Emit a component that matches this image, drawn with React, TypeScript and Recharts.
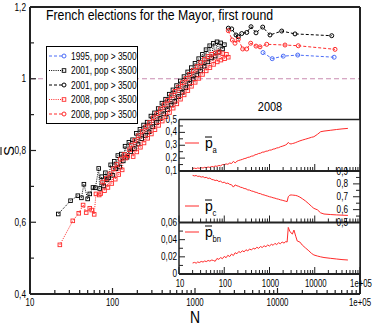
import React from 'react';
import { LineChart, Line, XAxis, YAxis, ReferenceLine, Legend, Customized } from 'recharts';

const FONT = "'Liberation Sans', Arial, sans-serif";
const AXIS = '#222';
const RED = '#ff2a2a';
const BLUE = '#4a6cf7';

// ---------- main panel data ----------
const n2001Small = [22, 31, 38, 42, 45, 50, 53, 58, 62, 68, 70, 74, 78, 82, 86, 90, 95, 100, 105, 110, 116, 122, 128, 135, 142, 150, 158, 166, 175, 184, 194, 204, 215, 226, 238, 250, 263, 277, 292, 307, 323, 340, 358, 377, 397, 418, 440, 463, 487, 513, 540, 568, 598, 630, 663, 698, 735, 774, 815, 858, 903, 950, 1000, 1053, 1108, 1166, 1228, 1292, 1360, 1432, 1507, 1586, 1670, 1758, 1850, 1948, 2050, 2158, 2272];
const s2001Small = [0.623, 0.660, 0.674, 0.668, 0.706, 0.665, 0.679, 0.697, 0.696, 0.750, 0.694, 0.727, 0.701, 0.738, 0.719, 0.724, 0.760, 0.731, 0.770, 0.749, 0.786, 0.754, 0.790, 0.771, 0.812, 0.781, 0.823, 0.797, 0.830, 0.805, 0.848, 0.818, 0.859, 0.833, 0.871, 0.842, 0.879, 0.852, 0.896, 0.866, 0.905, 0.878, 0.917, 0.889, 0.932, 0.902, 0.943, 0.914, 0.957, 0.927, 0.969, 0.937, 0.981, 0.950, 0.994, 0.962, 1.006, 0.975, 1.019, 0.987, 1.031, 0.999, 1.043, 1.011, 1.056, 1.022, 1.068, 1.035, 1.081, 1.047, 1.092, 1.058, 1.099, 1.063, 1.103, 1.074, 1.100, 1.083, 1.095];

const n2008Small = [23, 33, 39, 44, 48, 53, 56, 60, 63, 69, 72, 76, 80, 84, 88, 93, 98, 103, 108, 113, 119, 125, 131, 138, 145, 153, 161, 169, 178, 187, 197, 207, 218, 229, 241, 254, 267, 281, 296, 311, 327, 344, 362, 381, 401, 422, 444, 467, 491, 517, 544, 572, 602, 634, 667, 702, 739, 778, 819, 862, 907, 955, 1005, 1058, 1114, 1172, 1234, 1299, 1367, 1439, 1515, 1595, 1679, 1767, 1860, 1958, 2061, 2170, 2284, 2404, 2530];
const s2008Small = [0.537, 0.604, 0.625, 0.648, 0.627, 0.639, 0.634, 0.622, 0.679, 0.676, 0.680, 0.712, 0.688, 0.722, 0.697, 0.735, 0.708, 0.749, 0.720, 0.761, 0.733, 0.776, 0.746, 0.789, 0.779, 0.785, 0.802, 0.815, 0.783, 0.828, 0.796, 0.841, 0.809, 0.853, 0.821, 0.866, 0.834, 0.878, 0.846, 0.891, 0.858, 0.903, 0.870, 0.916, 0.882, 0.928, 0.894, 0.940, 0.906, 0.953, 0.918, 0.965, 0.930, 0.977, 0.943, 0.989, 0.955, 1.001, 0.967, 1.012, 0.979, 1.023, 0.990, 1.034, 1.001, 1.045, 1.012, 1.054, 1.022, 1.062, 1.031, 1.068, 1.040, 1.072, 1.047, 1.075, 1.052, 1.070, 1.056, 1.068, 1.060];

const n2001Large = [2535, 2786, 3141, 3350, 3683, 4236, 4777, 5488, 6615, 8110, 11245, 16300, 45400];
const s2001Large = [1.141, 1.139, 1.122, 1.117, 1.126, 1.129, 1.145, 1.128, 1.144, 1.122, 1.133, 1.125, 1.120];

const n2008Large = [2535, 2831, 3055, 3350, 3787, 4236, 4731, 5488, 6138, 7396, 12330, 17870, 49800];
const s2008Large = [1.134, 1.108, 1.099, 1.110, 1.083, 1.083, 1.099, 1.091, 1.089, 1.096, 1.094, 1.092, 1.082];

const n1995Large = [6670, 8630, 11740, 17580, 48600];
const s1995Large = [1.073, 1.056, 1.063, 1.066, 1.060];

// ---------- inset data (2008) ----------
const insetN = [20, 22, 24, 26, 28, 31, 34, 37, 40, 44, 48, 53, 58, 63, 69, 76, 83, 91, 100, 110, 120, 132, 145, 159, 174, 191, 209, 229, 251, 275, 302, 331, 363, 398, 437, 479, 525, 575, 631, 692, 759, 832, 912, 1000, 1096, 1202, 1318, 1445, 1585, 1738, 1905, 2089, 2291, 2450, 2600, 2800, 3000, 3200, 3470, 3800, 4100, 4700, 5300, 6200, 7400, 8500, 9550, 11500, 13500, 16000, 22000, 30000, 40000, 54000];
const paValues = [0.120, 0.122, 0.119, 0.124, 0.121, 0.126, 0.123, 0.129, 0.126, 0.131, 0.128, 0.135, 0.132, 0.139, 0.136, 0.143, 0.140, 0.150, 0.149, 0.155, 0.152, 0.162, 0.158, 0.175, 0.163, 0.176, 0.182, 0.186, 0.190, 0.196, 0.199, 0.206, 0.208, 0.215, 0.217, 0.226, 0.229, 0.236, 0.238, 0.246, 0.247, 0.254, 0.255, 0.262, 0.263, 0.270, 0.272, 0.279, 0.281, 0.288, 0.292, 0.297, 0.303, 0.310, 0.322, 0.312, 0.310, 0.313, 0.316, 0.321, 0.326, 0.334, 0.340, 0.347, 0.355, 0.362, 0.366, 0.385, 0.405, 0.410, 0.416, 0.422, 0.427, 0.431];
const pcValues = [0.866, 0.862, 0.865, 0.858, 0.860, 0.853, 0.856, 0.848, 0.851, 0.842, 0.845, 0.834, 0.832, 0.826, 0.829, 0.818, 0.821, 0.810, 0.813, 0.803, 0.806, 0.796, 0.793, 0.775, 0.792, 0.785, 0.781, 0.774, 0.771, 0.764, 0.762, 0.753, 0.752, 0.745, 0.742, 0.736, 0.733, 0.726, 0.724, 0.717, 0.714, 0.709, 0.705, 0.700, 0.697, 0.692, 0.689, 0.684, 0.681, 0.676, 0.673, 0.669, 0.665, 0.662, 0.700, 0.712, 0.714, 0.713, 0.712, 0.710, 0.707, 0.697, 0.685, 0.668, 0.645, 0.625, 0.610, 0.598, 0.575, 0.566, 0.562, 0.559, 0.557, 0.555];
const pbnValues = [0.0128, 0.0135, 0.0126, 0.0141, 0.0133, 0.0146, 0.0139, 0.0152, 0.0144, 0.0158, 0.0150, 0.0163, 0.0157, 0.0148, 0.0181, 0.0170, 0.0192, 0.0178, 0.0205, 0.0190, 0.0218, 0.0203, 0.0232, 0.0215, 0.0248, 0.0236, 0.0262, 0.0249, 0.0271, 0.0258, 0.0283, 0.0268, 0.0292, 0.0279, 0.0301, 0.0290, 0.0312, 0.0299, 0.0320, 0.0309, 0.0329, 0.0318, 0.0338, 0.0326, 0.0346, 0.0335, 0.0357, 0.0343, 0.0364, 0.0352, 0.0373, 0.0360, 0.0378, 0.0372, 0.0543, 0.0500, 0.0478, 0.0465, 0.0512, 0.0440, 0.0385, 0.0372, 0.0337, 0.0305, 0.0270, 0.0240, 0.0222, 0.0209, 0.0200, 0.0192, 0.0183, 0.0175, 0.0168, 0.0163];

// ---------- ticks / labels ----------
const logTicks = [10, 20, 30, 40, 50, 60, 70, 80, 90, 100, 200, 300, 400, 500, 600, 700, 800, 900, 1000, 2000, 3000, 4000, 5000, 6000, 7000, 8000, 9000, 10000, 20000, 30000, 40000, 50000, 60000, 70000, 80000, 90000, 100000];
const logMajors = [10, 100, 1000, 10000, 100000];
const logLabels = ['10', '100', '1000', '10000', '1e+05'];
const mainYTicks = [0.4, 0.5, 0.6, 0.7, 0.8, 0.9, 1, 1.1, 1.2];
const mainYMajors = [0.4, 0.6, 0.8, 1, 1.2];
const mainYLabels = ['0,4', '0,6', '0,8', '1', '1,2'];
const paTicks = [0.1, 0.15, 0.2, 0.25, 0.3, 0.35, 0.4, 0.45, 0.5];
const paMajors = [0.1, 0.2, 0.3, 0.4, 0.5];
const paLabels = ['0,1', '0,2', '0,3', '0,4', '0,5'];
const pcTicks = [0.5, 0.55, 0.6, 0.65, 0.7, 0.75, 0.8, 0.85, 0.9];
const pcMajors = [0.5, 0.6, 0.7, 0.8, 0.9];
const pcLabels = ['0,5', '0,6', '0,7', '0,8', '0,9'];
const pbnTicks = [0, 0.01, 0.02, 0.03, 0.04, 0.05, 0.06];
const pbnMajors = [0, 0.02, 0.04, 0.06];
const pbnLabels = ['0', '0,02', '0,04', '0,06'];

const legendItems = [
  { label: '1995, pop > 3500', color: BLUE, dash: '3 2', shape: 'circle' },
  { label: '2001, pop < 3500', color: '#000', dash: '1 1.2', shape: 'square' },
  { label: '2001, pop > 3500', color: '#000', dash: '3 2', shape: 'circle' },
  { label: '2008, pop < 3500', color: RED, dash: '1 1.2', shape: 'square' },
  { label: '2008, pop > 3500', color: RED, dash: '3 2', shape: 'circle' },
];

const zip = (ns: number[], ss: number[]) => ns.map((n, i) => ({ n, s: ss[i] }));
const d2001S = zip(n2001Small, s2001Small);
const d2008S = zip(n2008Small, s2008Small);
const d2001L = zip(n2001Large, s2001Large);
const d2008L = zip(n2008Large, s2008Large);
const d1995L = zip(n1995Large, s1995Large);
const insetData = insetN.map((n, i) => ({ n, pa: paValues[i], pc: pcValues[i], pbn: pbnValues[i] }));

const near = (a: number, b: number) => Math.abs(a - b) < 1e-9;
const labelOf = (v: number, majors: number[], labels: string[]) => {
  const i = majors.findIndex((m) => near(m, v));
  return i >= 0 ? labels[i] : null;
};

// condensed text: real text, squeezed horizontally around its anchor
function NText({ x, y, size, sx = 0.75, anchor = 'start', children }: any) {
  return (
    <text
      transform={`translate(${x},${y}) scale(${sx},1)`}
      x={0} y={0} textAnchor={anchor} fontSize={size} fontFamily={FONT} fill="#000"
    >
      {children}
    </text>
  );
}

function Marker({ shape, color, cx, cy }: any) {
  if (cx == null || cy == null) return null;
  if (shape === 'square') {
    return <rect x={cx - 1.8} y={cy - 1.8} width={3.6} height={3.6} fill="none" stroke={color} strokeWidth={0.9} />;
  }
  return <circle cx={cx} cy={cy} r={2} fill="none" stroke={color} strokeWidth={1} />;
}

// ---------- custom ticks ----------
function MainXTick(props: any) {
  const { x, y, payload } = props;
  const lab = labelOf(payload.value, logMajors, logLabels);
  return (
    <g>
      <line x1={x} x2={x} y1={y} y2={y - (lab ? 6 : 4)} stroke={AXIS} strokeWidth={1.2} />
      {lab && <NText x={x} y={y + 11.5} size={10.5} sx={0.75} anchor="middle">{lab}</NText>}
    </g>
  );
}
function MainYTick(props: any) {
  const { x, y, payload } = props;
  const lab = labelOf(payload.value, mainYMajors, mainYLabels);
  return (
    <g>
      <line x1={x} x2={x + (lab ? 6 : 4)} y1={y} y2={y} stroke={AXIS} strokeWidth={1.2} />
      {lab && <NText x={x - 4} y={y + 3.5} size={11} sx={0.75} anchor="end">{lab}</NText>}
    </g>
  );
}
function InsetXTick(props: any) {
  const { x, y, payload, showLabel } = props;
  const lab = labelOf(payload.value, logMajors, logLabels);
  return (
    <g>
      <line x1={x} x2={x} y1={y} y2={y - (lab ? 7 : 4)} stroke={AXIS} strokeWidth={1} />
      {showLabel && lab && <NText x={x + 1} y={y + 12.5} size={10} sx={0.78} anchor="middle">{lab}</NText>}
    </g>
  );
}
function makeLeftTick(majors: number[], labels: string[]) {
  return (props: any) => {
    const { x, y, payload } = props;
    const lab = labelOf(payload.value, majors, labels);
    return (
      <g>
        <line x1={x} x2={x + (lab ? 6 : 4)} y1={y} y2={y} stroke={AXIS} strokeWidth={1} />
        {lab && <NText x={x - 2} y={y + 3} size={10.5} sx={0.78} anchor="end">{lab}</NText>}
      </g>
    );
  };
}
function makeRightInnerTick(majors: number[], labels: string[]) {
  return (props: any) => {
    const { x, y, payload } = props;
    const lab = labelOf(payload.value, majors, labels);
    return (
      <g>
        <line x1={x} x2={x - (lab ? 7 : 4)} y1={y} y2={y} stroke={AXIS} strokeWidth={1} />
        {lab && <NText x={x - 12} y={y + 3.5} size={10.5} sx={0.78} anchor="end">{lab}</NText>}
      </g>
    );
  };
}
const PaTick = makeLeftTick(paMajors, paLabels);
const PbnTick = makeLeftTick(pbnMajors, pbnLabels);
const PcTick = makeRightInnerTick(pcMajors, pcLabels);

// ---------- legend & annotations ----------
function MainLegend() {
  return (
    <svg width={92} height={78} style={{ display: 'block' }}>
      <rect x={0.5} y={0.5} width={91} height={77} fill="#fff" stroke="#000" strokeWidth={1} />
      {legendItems.map((it, i) => {
        const y = 10 + i * 14.5;
        return (
          <g key={it.label}>
            <line x1={3} x2={18} y1={y} y2={y} stroke={it.color} strokeWidth={1} strokeDasharray={it.dash} />
            <Marker shape={it.shape} color={it.color} cx={18} cy={y} />
            <NText x={25} y={y + 3.8} size={10.5} sx={0.8}>{it.label}</NText>
          </g>
        );
      })}
    </svg>
  );
}

function MainAnnotations() {
  return (
    <g>
      <NText x={46} y={20} size={14} sx={0.88}>French elections for the Mayor, first round</NText>
      <NText x={195} y={323} size={17} sx={0.82} anchor="middle">N</NText>
      <g transform="rotate(-90, 9, 151)">
        <text x={9} y={156} fontSize={15} fontFamily={FONT} textAnchor="middle" fill="#000">S</text>
        <line x1={5} x2={13} y1={143} y2={143} stroke="#000" strokeWidth={1} />
      </g>
    </g>
  );
}

function PLabel({ lineY, sub }: { lineY: number; sub: string }) {
  const base = lineY + 5;
  return (
    <g>
      <line x1={185} x2={199} y1={lineY} y2={lineY} stroke={RED} strokeWidth={1} />
      <text x={205} y={base} fontSize={14} fontFamily={FONT} fill="#000">p</text>
      <line x1={205} x2={212} y1={base - 11} y2={base - 11} stroke="#000" strokeWidth={1} />
      <NText x={212.5} y={base + 5} size={9} sx={0.85}>{sub}</NText>
    </g>
  );
}

// ---------- charts ----------
function MainChart() {
  return (
    <LineChart width={374} height={327} margin={{ top: 6, right: 13, bottom: 0, left: 0 }}>
      <XAxis
        xAxisId="b" dataKey="n" type="number" scale="log" domain={[10, 100000]} allowDataOverflow
        ticks={logTicks} interval={0} tickSize={0} tickMargin={0} tick={<MainXTick />}
        axisLine={{ stroke: AXIS, strokeWidth: 2 }} tickLine={false} height={33}
      />
      <XAxis
        xAxisId="t" orientation="top" type="number" scale="log" domain={[10, 100000]} allowDataOverflow
        ticks={[10, 100000]} tick={false} tickLine={false} axisLine={{ stroke: AXIS, strokeWidth: 2 }} height={1}
      />
      <YAxis
        yAxisId="l" type="number" domain={[0.4, 1.2]} allowDataOverflow ticks={mainYTicks} interval={0}
        tickSize={0} tickMargin={0} tick={<MainYTick />} tickLine={false}
        axisLine={{ stroke: AXIS, strokeWidth: 2 }} width={30}
      />
      <YAxis
        yAxisId="r" orientation="right" type="number" domain={[0.4, 1.2]} allowDataOverflow
        ticks={[0.4, 1.2]} tick={false} tickLine={false} axisLine={{ stroke: AXIS, strokeWidth: 2 }} width={1}
      />
      <ReferenceLine xAxisId="b" yAxisId="l" y={1} stroke="#c98bb0" strokeDasharray="5 3" strokeWidth={1} />
      <Line xAxisId="b" yAxisId="l" data={d1995L} dataKey="s" stroke={BLUE} strokeWidth={1} strokeDasharray="3 2"
        isAnimationActive={false} dot={(p: any) => <Marker key={p.index} shape="circle" color={BLUE} cx={p.cx} cy={p.cy} />} />
      <Line xAxisId="b" yAxisId="l" data={d2001S} dataKey="s" stroke="#000" strokeWidth={1} strokeDasharray="1 1.2"
        isAnimationActive={false} dot={(p: any) => <Marker key={p.index} shape="square" color="#000" cx={p.cx} cy={p.cy} />} />
      <Line xAxisId="b" yAxisId="l" data={d2001L} dataKey="s" stroke="#000" strokeWidth={1} strokeDasharray="3 2"
        isAnimationActive={false} dot={(p: any) => <Marker key={p.index} shape="circle" color="#000" cx={p.cx} cy={p.cy} />} />
      <Line xAxisId="b" yAxisId="l" data={d2008S} dataKey="s" stroke={RED} strokeWidth={1} strokeDasharray="1 1.2"
        isAnimationActive={false} dot={(p: any) => <Marker key={p.index} shape="square" color={RED} cx={p.cx} cy={p.cy} />} />
      <Line xAxisId="b" yAxisId="l" data={d2008L} dataKey="s" stroke={RED} strokeWidth={1} strokeDasharray="3 2"
        isAnimationActive={false} dot={(p: any) => <Marker key={p.index} shape="circle" color={RED} cx={p.cx} cy={p.cy} />} />
      <Legend
        layout="horizontal" verticalAlign="middle" align="center"
        content={() => <MainLegend />}
        wrapperStyle={{ position: 'absolute', left: 46, top: 46, width: 92, height: 78, margin: 0, padding: 0 }}
      />
      <Customized component={<MainAnnotations />} />
    </LineChart>
  );
}

function InsetPanel({ top, bottom, dataKey, domain, ticks, side, tickComp, showXLabels, lineY, sub, showTopLine, title }: any) {
  return (
    <LineChart width={374} height={327} data={insetData} margin={{ top: top - 1, right: 13, bottom: 327 - bottom - 1, left: 178 }}>
      <XAxis
        xAxisId="b" dataKey="n" type="number" scale="log" domain={[10, 100000]} allowDataOverflow
        ticks={logTicks} interval={0} tickSize={0} tickMargin={0}
        tick={(p: any) => <InsetXTick {...p} showLabel={showXLabels} />}
        axisLine={{ stroke: AXIS, strokeWidth: 2 }} tickLine={false} height={1}
      />
      <XAxis
        xAxisId="t" orientation="top" type="number" scale="log" domain={[10, 100000]} allowDataOverflow
        ticks={[10, 100000]} tick={false} tickLine={false}
        axisLine={showTopLine ? { stroke: AXIS, strokeWidth: 1.5 } : false} height={1}
      />
      <YAxis
        yAxisId="y" orientation={side} type="number" domain={domain} allowDataOverflow ticks={ticks} interval={0}
        tickSize={0} tickMargin={0} tick={tickComp} tickLine={false}
        axisLine={{ stroke: AXIS, strokeWidth: 1.5 }} width={1}
      />
      <YAxis
        yAxisId="o" orientation={side === 'left' ? 'right' : 'left'} type="number" domain={domain} allowDataOverflow
        ticks={[domain[0], domain[1]]} tick={false} tickLine={false} axisLine={{ stroke: AXIS, strokeWidth: 1.5 }} width={1}
      />
      <Line xAxisId="b" yAxisId="y" dataKey={dataKey} stroke={RED} strokeWidth={1} dot={false} isAnimationActive={false} />
      <Customized
        component={
          <g>
            <PLabel lineY={lineY} sub={sub} />
            {title && <NText x={270} y={110.5} size={12.5} sx={0.88} anchor="middle">{title}</NText>}
          </g>
        }
      />
    </LineChart>
  );
}

export default function App() {
  return (
    <div style={{ position: 'absolute', left: 0, top: 0, width: 374, height: 327, background: '#fff', overflow: 'hidden' }}>
      <div style={{ position: 'absolute', left: 0, top: 0 }}>
        <MainChart />
      </div>
      <div style={{ position: 'absolute', left: 178, top: 119, width: 182, height: 155, background: '#fff' }} />
      <div style={{ position: 'absolute', left: 0, top: 0 }}>
        <InsetPanel top={119.5} bottom={171} dataKey="pa" domain={[0.1, 0.5]} ticks={paTicks} side="left"
          tickComp={PaTick} showXLabels={false} lineY={143} sub="a" showTopLine title="2008" />
      </div>
      <div style={{ position: 'absolute', left: 0, top: 0 }}>
        <InsetPanel top={171} bottom={222.5} dataKey="pc" domain={[0.5, 0.9]} ticks={pcTicks} side="right"
          tickComp={PcTick} showXLabels={false} lineY={206} sub="c" />
      </div>
      <div style={{ position: 'absolute', left: 0, top: 0 }}>
        <InsetPanel top={222.5} bottom={274} dataKey="pbn" domain={[0, 0.06]} ticks={pbnTicks} side="left"
          tickComp={PbnTick} showXLabels lineY={232} sub="bn" />
      </div>
    </div>
  );
}
